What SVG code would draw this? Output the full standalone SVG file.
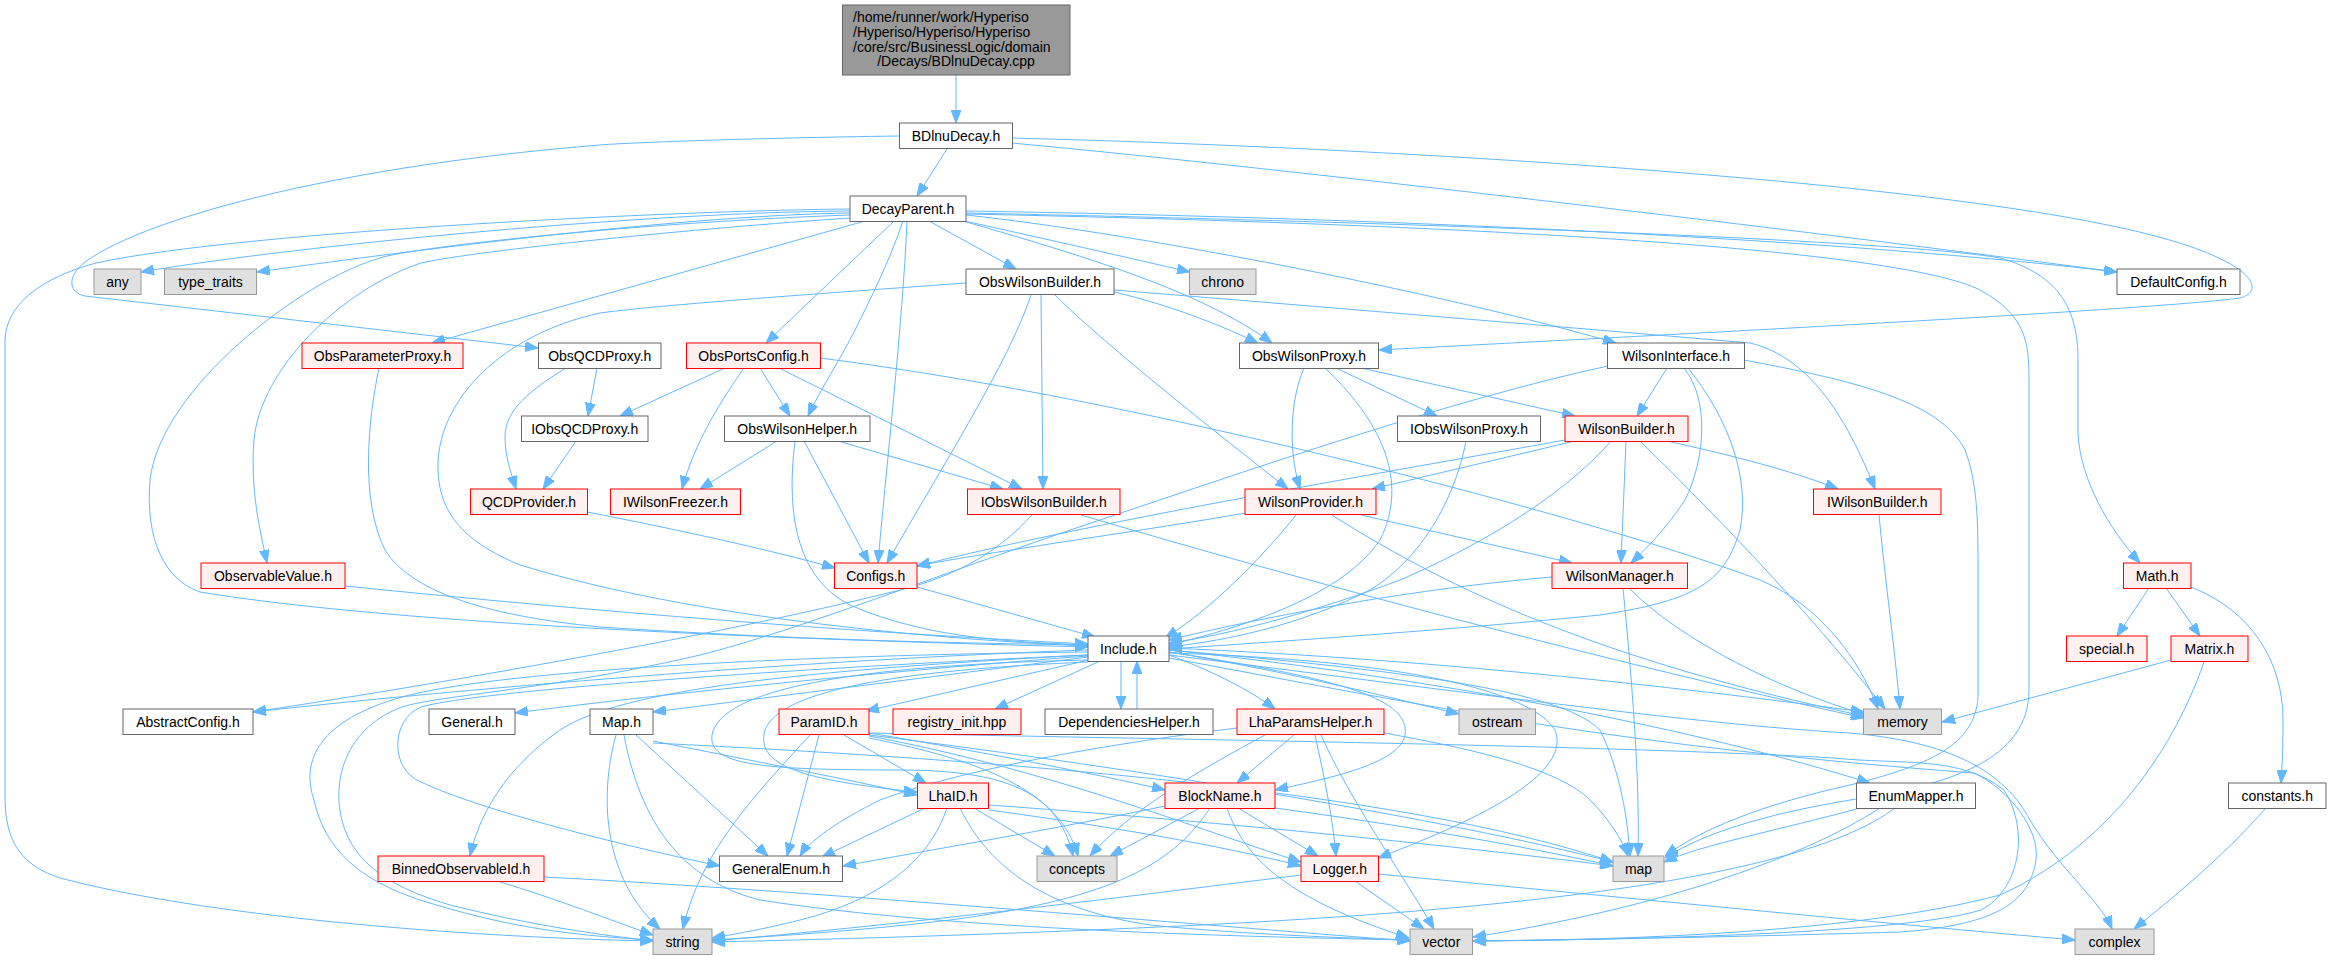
<svg xmlns="http://www.w3.org/2000/svg" width="2331" height="960" viewBox="0 0 2331 960">
<style>
text{font-family:"Liberation Sans",Arial,sans-serif;font-size:14px;fill:#000;text-anchor:middle}
.n rect{fill:#fff;stroke:#666;stroke-width:1}
.r rect{fill:#FFF0F0;stroke:#f00;stroke-width:1}
.g rect{fill:#E0E0E0;stroke:#999;stroke-width:1}
#edges path{fill:none;stroke:#63B8FF;stroke-width:1;marker-end:url(#a)}
</style>
<defs>
<marker id="a" viewBox="0 0 13 10" refX="13" refY="5" markerWidth="13" markerHeight="10" markerUnits="userSpaceOnUse" orient="auto">
<path d="M0,0 L13,5 L0,10 z" fill="#63B8FF" stroke="#63B8FF"/>
</marker>
</defs>
<rect width="2331" height="960" fill="#fff"/>
<g id="edges">
<path d="M956,75 L956,123"/>
<path d="M947,149 L917,196"/>
<path d="M899,136 C750,138 620,143 600,145 C350,165 150,215 85,262 C65,278 70,293 85,296 L538,348"/>
<path d="M1012,143 C1300,170 1800,230 2117,272"/>
<path d="M1012,138 C1400,148 1900,180 2117,227 C2250,255 2270,290 2240,298 C2150,310 1700,333 1379,350"/>
<path d="M850,211 C650,212 300,245 141,272"/>
<path d="M850,213 C700,215 450,245 257,272"/>
<path d="M850,209 C700,210 250,230 96,263 C40,278 6,305 5,340 L5,797 C5,840 20,865 60,878 C200,915 450,937 653,941"/>
<path d="M850,215 C650,222 430,245 383,257 C300,280 160,390 150,480 C145,540 165,580 200,592 C400,625 800,640 1088,647"/>
<path d="M850,218 C700,228 480,250 421,263 C340,290 260,370 254,440 C250,490 260,530 267,563"/>
<path d="M865,221 L432,343"/>
<path d="M894,221 L766,343"/>
<path d="M903,221 C890,260 870,300 855,330 C840,360 820,390 808,416"/>
<path d="M907,221 C903,320 885,480 878,563"/>
<path d="M929,221 L1016,269"/>
<path d="M960,220 C1050,240 1130,258 1190,272"/>
<path d="M963,221 C1080,255 1200,290 1272,343"/>
<path d="M1114,292 C1170,305 1220,325 1258,343"/>
<path d="M966,211 C1400,218 1850,240 2117,272"/>
<path d="M966,213 C1400,222 1900,240 2000,258 C2060,275 2078,310 2078,360 L2078,433 C2080,480 2110,530 2140,563"/>
<path d="M966,215 C1150,235 1450,295 1616,343"/>
<path d="M966,214 C1500,225 1900,250 1980,290 C2025,315 2029,340 2029,380 L2029,690 C2029,760 1950,785 1850,800 C1760,815 1700,835 1665,858"/>
<path d="M966,283 C800,295 660,305 600,313 C500,335 440,400 438,463 C437,510 460,540 520,565 C700,620 950,640 1088,646"/>
<path d="M1031,295 C1010,360 940,470 887,563"/>
<path d="M1041,295 L1043,489"/>
<path d="M1055,295 C1100,340 1200,420 1288,489"/>
<path d="M1114,290 C1300,305 1600,330 1750,343 C1800,355 1840,400 1875,489"/>
<path d="M379,368 C368,420 360,500 385,550 C410,590 480,615 600,627 C800,640 950,643 1088,645"/>
<path d="M597,368 L588,416"/>
<path d="M566,368 C530,390 505,410 505,437 C505,455 510,470 516,489"/>
<path d="M576,441 L543,489"/>
<path d="M587,512 C680,530 770,550 835,568"/>
<path d="M345,586 C600,612 850,632 1088,644"/>
<path d="M725,368 L620,416"/>
<path d="M744,368 C725,395 695,440 682,489"/>
<path d="M760,368 L790,416"/>
<path d="M779,368 L1022,489"/>
<path d="M820,358 C1150,400 1600,520 1760,580 C1820,605 1860,660 1878,709"/>
<path d="M777,441 L700,489"/>
<path d="M804,441 L869,563"/>
<path d="M838,441 L1003,489"/>
<path d="M795,441 C785,520 800,580 850,605 C930,640 1020,642 1088,645"/>
<path d="M1032,515 C1000,550 960,575 900,590 C700,640 400,690 253,712"/>
<path d="M1081,515 C1300,580 1600,660 1864,718"/>
<path d="M917,587 L1095,637"/>
<path d="M1304,368 C1290,400 1288,450 1300,489"/>
<path d="M1325,368 C1380,420 1410,480 1380,540 C1340,600 1230,630 1169,645"/>
<path d="M1336,368 L1437,416"/>
<path d="M1361,368 L1575,416"/>
<path d="M1466,441 C1455,500 1420,560 1370,590 C1300,625 1230,640 1169,647"/>
<path d="M1667,368 L1637,416"/>
<path d="M1684,368 C1710,400 1705,460 1685,500 C1665,530 1645,550 1631,563"/>
<path d="M1688,368 C1730,420 1750,480 1740,530 C1725,580 1700,600 1600,615 C1450,630 1300,640 1169,649"/>
<path d="M1608,366 C1450,400 1250,470 1100,520 C950,570 800,630 700,655 C550,690 440,695 402,707 C340,730 330,790 345,830 C360,870 400,890 450,905 C530,925 600,935 653,941"/>
<path d="M1744,360 C1850,380 1940,400 1965,450 C1977,480 1978,520 1978,560 L1978,697 C1975,745 1930,765 1850,785 C1760,805 1700,830 1665,856"/>
<path d="M1575,441 L1372,489"/>
<path d="M1565,440 C1400,470 1100,520 917,566"/>
<path d="M1611,441 C1560,500 1470,550 1400,580 C1320,610 1230,635 1169,643"/>
<path d="M1626,441 L1621,563"/>
<path d="M1640,441 C1700,500 1800,600 1885,709"/>
<path d="M1667,441 C1730,455 1790,470 1838,489"/>
<path d="M1245,513 C1150,530 1000,550 917,566"/>
<path d="M1296,515 C1260,560 1210,610 1165,638"/>
<path d="M1361,515 L1572,563"/>
<path d="M1332,515 C1450,590 1600,660 1864,716"/>
<path d="M1552,577 C1400,590 1250,620 1169,640"/>
<path d="M1623,588 C1632,680 1640,780 1638,856"/>
<path d="M1629,588 C1680,640 1780,690 1864,714"/>
<path d="M1879,515 C1885,580 1895,650 1900,709"/>
<path d="M2149,588 L2117,636"/>
<path d="M2166,588 L2200,636"/>
<path d="M2191,587 C2250,610 2283,660 2283,720 C2283,750 2282,770 2281,783"/>
<path d="M2171,660 L1942,722"/>
<path d="M2204,662 C2170,760 2100,850 2000,895 C1850,935 1600,940 1473,941"/>
<path d="M2266,808 C2220,860 2170,900 2134,929"/>
<path d="M1121,661 L1121,709"/>
<path d="M1137,709 L1137,661"/>
<path d="M1100,661 L995,709"/>
<path d="M1089,660 L866,711"/>
<path d="M1088,657 L653,712"/>
<path d="M1088,656 C900,670 650,695 515,713"/>
<path d="M1088,650 C800,660 450,690 253,712"/>
<path d="M1088,655 C800,670 620,690 560,730 C510,765 480,810 470,856"/>
<path d="M1088,652 C800,655 500,670 402,697 C320,720 300,760 314,800 C325,850 360,880 420,900 C500,925 560,935 653,940"/>
<path d="M1088,655 C800,668 480,690 421,707 C390,720 390,770 421,782 C480,810 620,845 720,866"/>
<path d="M1088,662 C900,670 780,690 765,730 C755,765 800,780 917,792"/>
<path d="M1088,660 C850,665 720,690 712,735 C708,765 760,770 900,770 C1020,770 1060,800 1073,856"/>
<path d="M1169,655 C1210,670 1250,690 1275,709"/>
<path d="M1169,652 C1280,670 1380,695 1459,714"/>
<path d="M1169,652 C1350,680 1410,700 1405,735 C1400,765 1320,780 1275,790"/>
<path d="M1169,653 C1400,660 1530,690 1555,730 C1575,780 1450,830 1378,858"/>
<path d="M1169,650 C1400,670 1560,690 1600,730 C1620,770 1628,820 1630,856"/>
<path d="M1169,650 C1450,680 1700,730 1870,783"/>
<path d="M1169,648 C1450,660 1700,690 1864,712"/>
<path d="M1169,658 C1400,700 1600,745 1974,773 C2010,790 2040,830 2036,860 C2030,900 2000,925 1900,932 C1700,938 1550,940 1473,941"/>
<path d="M1169,655 C1450,690 1700,725 1850,733 C1950,742 2003,770 2030,820 C2060,870 2100,900 2112,929"/>
<path d="M616,735 C598,800 605,880 660,929"/>
<path d="M624,735 C640,820 680,880 760,900 C950,930 1250,937 1410,940"/>
<path d="M636,735 L768,856"/>
<path d="M653,741 C750,760 850,780 917,795"/>
<path d="M653,743 C1000,760 1400,790 1613,862"/>
<path d="M810,735 C760,790 700,850 683,929"/>
<path d="M819,735 L787,856"/>
<path d="M844,735 L926,783"/>
<path d="M869,733 C1000,755 1100,775 1165,790"/>
<path d="M869,738 C980,760 1060,790 1078,856"/>
<path d="M869,736 C1050,770 1200,830 1301,862"/>
<path d="M869,735 C1150,770 1450,820 1613,862"/>
<path d="M869,733 C1200,740 1600,745 1834,758 C1900,765 1960,755 2004,790 C2030,830 2020,890 1981,910 C1900,935 1600,940 1473,941"/>
<path d="M925,808 L822,857"/>
<path d="M947,808 C930,860 880,900 800,920 C760,930 730,935 712,938"/>
<path d="M974,808 L1055,856"/>
<path d="M989,810 C1100,825 1220,845 1301,866"/>
<path d="M989,805 C1200,820 1450,845 1613,866"/>
<path d="M960,808 C990,870 1050,910 1150,925 C1250,935 1350,938 1410,940"/>
<path d="M1294,735 L1237,783"/>
<path d="M1315,735 C1325,780 1333,820 1336,856"/>
<path d="M1321,735 C1350,800 1400,870 1434,929"/>
<path d="M1384,733 C1480,750 1560,770 1590,800 C1610,820 1622,840 1628,856"/>
<path d="M1237,728 C1100,745 960,770 880,800 C840,820 810,840 800,856"/>
<path d="M1265,735 C1200,770 1130,810 1090,856"/>
<path d="M1165,806 C1050,830 930,850 843,866"/>
<path d="M1200,808 L1110,856"/>
<path d="M1210,808 C1170,870 1100,900 950,920 C850,932 760,937 712,940"/>
<path d="M1238,808 L1318,856"/>
<path d="M1227,808 C1245,860 1290,900 1409,938"/>
<path d="M1275,808 C1400,825 1520,845 1613,866"/>
<path d="M1301,875 C1100,900 900,925 712,941"/>
<path d="M1355,881 L1424,929"/>
<path d="M1378,874 C1650,900 1900,925 2075,940"/>
<path d="M1860,808 C1780,830 1700,845 1664,862"/>
<path d="M1880,808 C1800,860 1650,910 1473,937"/>
<path d="M1895,808 C1800,880 1500,910 1200,925 C1000,935 800,940 712,942"/>
<path d="M497,881 C560,900 610,920 653,935"/>
<path d="M544,877 C800,890 1200,925 1410,941"/>
</g>
<g id="root"><rect x="842.5" y="5" width="227.5" height="70" fill="#999" stroke="#666"/>
<text x="853" y="21.5" style="text-anchor:start">/home/runner/work/Hyperiso</text>
<text x="853" y="36.5" style="text-anchor:start">/Hyperiso/Hyperiso/Hyperiso</text>
<text x="853" y="51.5" style="text-anchor:start">/core/src/BusinessLogic/domain</text>
<text x="956" y="66">/Decays/BDlnuDecay.cpp</text></g>
<g id="BDlnuDecay" class="n"><rect x="899.5" y="123" width="113" height="25.5"/><text x="956" y="141">BDlnuDecay.h</text></g>
<g id="DecayParent" class="n"><rect x="850" y="196" width="116" height="25.5"/><text x="908" y="214">DecayParent.h</text></g>
<g id="any" class="g"><rect x="94" y="269" width="47" height="25.5"/><text x="117.5" y="287">any</text></g>
<g id="type_traits" class="g"><rect x="164.5" y="269" width="92" height="25.5"/><text x="210.5" y="287">type_traits</text></g>
<g id="ObsWilsonBuilder" class="n"><rect x="966" y="269" width="148" height="25.5"/><text x="1040" y="287">ObsWilsonBuilder.h</text></g>
<g id="chrono" class="g"><rect x="1189.5" y="269" width="66.5" height="25.5"/><text x="1222.75" y="287">chrono</text></g>
<g id="DefaultConfig" class="n"><rect x="2117" y="269" width="123" height="25.5"/><text x="2178.5" y="287">DefaultConfig.h</text></g>
<g id="ObsParameterProxy" class="r"><rect x="302" y="343" width="161" height="25.5"/><text x="382.5" y="361">ObsParameterProxy.h</text></g>
<g id="ObsQCDProxy" class="n"><rect x="538.5" y="343" width="122.5" height="25.5"/><text x="599.75" y="361">ObsQCDProxy.h</text></g>
<g id="ObsPortsConfig" class="r"><rect x="686.5" y="343" width="134" height="25.5"/><text x="753.5" y="361">ObsPortsConfig.h</text></g>
<g id="ObsWilsonProxy" class="n"><rect x="1239.5" y="343" width="139" height="25.5"/><text x="1309" y="361">ObsWilsonProxy.h</text></g>
<g id="WilsonInterface" class="n"><rect x="1607.5" y="343" width="137" height="25.5"/><text x="1676" y="361">WilsonInterface.h</text></g>
<g id="IObsQCDProxy" class="n"><rect x="521.5" y="416" width="126.5" height="25.5"/><text x="584.75" y="434">IObsQCDProxy.h</text></g>
<g id="ObsWilsonHelper" class="n"><rect x="724.5" y="416" width="145.5" height="25.5"/><text x="797.25" y="434">ObsWilsonHelper.h</text></g>
<g id="IObsWilsonProxy" class="n"><rect x="1397.5" y="416" width="143" height="25.5"/><text x="1469" y="434">IObsWilsonProxy.h</text></g>
<g id="WilsonBuilder" class="r"><rect x="1565" y="416" width="123" height="25.5"/><text x="1626.5" y="434">WilsonBuilder.h</text></g>
<g id="QCDProvider" class="r"><rect x="470.5" y="489" width="117" height="25.5"/><text x="529" y="507">QCDProvider.h</text></g>
<g id="IWilsonFreezer" class="r"><rect x="610.5" y="489" width="130" height="25.5"/><text x="675.5" y="507">IWilsonFreezer.h</text></g>
<g id="IObsWilsonBuilder" class="r"><rect x="967.5" y="489" width="152.5" height="25.5"/><text x="1043.75" y="507">IObsWilsonBuilder.h</text></g>
<g id="WilsonProvider" class="r"><rect x="1245" y="489" width="131" height="25.5"/><text x="1310.5" y="507">WilsonProvider.h</text></g>
<g id="IWilsonBuilder" class="r"><rect x="1813.5" y="489" width="127.5" height="25.5"/><text x="1877.25" y="507">IWilsonBuilder.h</text></g>
<g id="ObservableValue" class="r"><rect x="201" y="563" width="144" height="25.5"/><text x="273" y="581">ObservableValue.h</text></g>
<g id="Configs" class="r"><rect x="834.5" y="563" width="82.5" height="25.5"/><text x="875.75" y="581">Configs.h</text></g>
<g id="WilsonManager" class="r"><rect x="1552" y="563" width="135.5" height="25.5"/><text x="1619.75" y="581">WilsonManager.h</text></g>
<g id="Math" class="r"><rect x="2123.5" y="563" width="67.5" height="25.5"/><text x="2157.25" y="581">Math.h</text></g>
<g id="Include" class="n"><rect x="1088" y="636" width="81" height="25.5"/><text x="1128.5" y="654">Include.h</text></g>
<g id="special" class="r"><rect x="2066.5" y="636" width="80.5" height="25.5"/><text x="2106.75" y="654">special.h</text></g>
<g id="Matrix" class="r"><rect x="2171" y="636" width="77" height="25.5"/><text x="2209.5" y="654">Matrix.h</text></g>
<g id="AbstractConfig" class="n"><rect x="123" y="709" width="130" height="25.5"/><text x="188" y="727">AbstractConfig.h</text></g>
<g id="General" class="n"><rect x="429" y="709" width="86" height="25.5"/><text x="472" y="727">General.h</text></g>
<g id="Map" class="n"><rect x="590" y="709" width="63" height="25.5"/><text x="621.5" y="727">Map.h</text></g>
<g id="ParamID" class="r"><rect x="779" y="709" width="90" height="25.5"/><text x="824" y="727">ParamID.h</text></g>
<g id="registry_init" class="r"><rect x="893" y="709" width="128" height="25.5"/><text x="957" y="727">registry_init.hpp</text></g>
<g id="DependenciesHelper" class="n"><rect x="1045" y="709" width="168" height="25.5"/><text x="1129" y="727">DependenciesHelper.h</text></g>
<g id="LhaParamsHelper" class="r"><rect x="1237" y="709" width="147" height="25.5"/><text x="1310.5" y="727">LhaParamsHelper.h</text></g>
<g id="ostream" class="g"><rect x="1459" y="709" width="76.5" height="25.5"/><text x="1497.25" y="727">ostream</text></g>
<g id="memory" class="g"><rect x="1863.5" y="709" width="78" height="25.5"/><text x="1902.5" y="727">memory</text></g>
<g id="LhaID" class="r"><rect x="917.5" y="783" width="71" height="25.5"/><text x="953" y="801">LhaID.h</text></g>
<g id="BlockName" class="r"><rect x="1165" y="783" width="110" height="25.5"/><text x="1220" y="801">BlockName.h</text></g>
<g id="EnumMapper" class="n"><rect x="1856.5" y="783" width="119" height="25.5"/><text x="1916" y="801">EnumMapper.h</text></g>
<g id="constants" class="n"><rect x="2228.5" y="783" width="97.5" height="25.5"/><text x="2277.25" y="801">constants.h</text></g>
<g id="BinnedObservableId" class="r"><rect x="378" y="856" width="166" height="25.5"/><text x="461" y="874">BinnedObservableId.h</text></g>
<g id="GeneralEnum" class="n"><rect x="719.5" y="856" width="123" height="25.5"/><text x="781" y="874">GeneralEnum.h</text></g>
<g id="concepts" class="g"><rect x="1037" y="856" width="80" height="25.5"/><text x="1077" y="874">concepts</text></g>
<g id="Logger" class="r"><rect x="1301" y="856" width="77.5" height="25.5"/><text x="1339.75" y="874">Logger.h</text></g>
<g id="map" class="g"><rect x="1613" y="856" width="51" height="25.5"/><text x="1638.5" y="874">map</text></g>
<g id="string" class="g"><rect x="653" y="929" width="59" height="25.5"/><text x="682.5" y="947">string</text></g>
<g id="vector" class="g"><rect x="1410" y="929" width="62.5" height="25.5"/><text x="1441.25" y="947">vector</text></g>
<g id="complex" class="g"><rect x="2075" y="929" width="79" height="25.5"/><text x="2114.5" y="947">complex</text></g>
</svg>
